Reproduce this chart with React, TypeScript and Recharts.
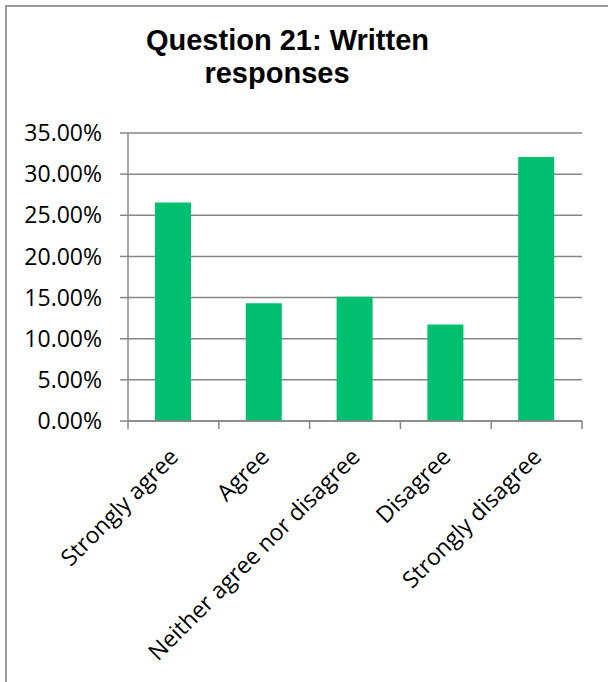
import React from "react";
import { BarChart, Bar, XAxis, YAxis, CartesianGrid } from "recharts";

const categories = [
  "Strongly agree",
  "Agree",
  "Neither agree nor disagree",
  "Disagree",
  "Strongly disagree",
];
const shares = [0.2654, 0.1432, 0.1509, 0.1173, 0.3209];
const yTicks = [0, 0.05, 0.1, 0.15, 0.2, 0.25, 0.3, 0.35];
const edgeTicks = [0, 1, 2, 3, 4, 5];
const titleLines = ["Question 21: Written", "responses"];

const data = categories.map((name, i) => ({ name, value: shares[i], edge: i + 0.5 }));

const AXIS = "#868686";
const BAR = "#00BF6F";
const FONT = "'Open Sans', sans-serif";

const CatTick = (props: any) => {
  const { x, y, payload } = props;
  const ax = x;
  const ay = y + 23;
  return (
    <text
      x={ax}
      y={ay}
      transform={`rotate(-45, ${ax}, ${ay})`}
      textAnchor="end"
      dominantBaseline="central"
      fontFamily={FONT}
      fontSize={23}
      fill="#000"
    >
      {payload.value}
    </text>
  );
};

const EdgeTick = (props: any) => {
  const { x, y } = props;
  return <line x1={x} x2={x} y1={y} y2={y + 8} stroke={AXIS} strokeWidth={1.5} />;
};

export default function App() {
  return (
    <div style={{ position: "absolute", left: 0, top: 0, width: 608, height: 682, background: "#fff" }}>
      <div
        style={{
          position: "absolute",
          left: 5,
          top: 5,
          width: 603,
          height: 677,
          boxSizing: "border-box",
          borderTop: "2px solid #9a9a9a",
          borderLeft: "2px solid #9a9a9a",
        }}
      />
      <svg width={608} height={110} style={{ position: "absolute", left: 0, top: 0 }}>
        <text
          textAnchor="middle"
          fontFamily="'Liberation Sans', Arial, sans-serif"
          fontWeight="bold"
          fontSize={29}
          fill="#000"
        >
          <tspan x={287.5} y={49.5}>{titleLines[0]}</tspan>
          <tspan x={277} y={82.5}>{titleLines[1]}</tspan>
        </text>
      </svg>
      <div style={{ position: "absolute", left: 0, top: 0 }}>
        <BarChart
          width={608}
          height={682}
          data={data}
          margin={{ top: 133, right: 26, bottom: 61, left: 28 }}
          barSize={36}
        >
          <CartesianGrid horizontal vertical={false} stroke={AXIS} strokeWidth={1.5} />
          <XAxis
            xAxisId="a-edges"
            dataKey="edge"
            type="number"
            domain={[0, 5]}
            ticks={edgeTicks}
            height={8}
            axisLine={{ stroke: AXIS, strokeWidth: 1.5 }}
            tickLine={false}
            tickSize={0}
            tickMargin={0}
            tick={<EdgeTick />}
            allowDataOverflow
          />
          <XAxis
            xAxisId="b-cat"
            dataKey="name"
            type="category"
            height={192}
            axisLine={false}
            tickLine={false}
            tickSize={0}
            tickMargin={0}
            interval={0}
            tick={<CatTick />}
          />
          <YAxis
            width={100}
            domain={[0, 0.35]}
            ticks={yTicks}
            axisLine={{ stroke: AXIS, strokeWidth: 1.5 }}
            tickLine={{ stroke: AXIS, strokeWidth: 1.5 }}
            tickSize={8}
            tickMargin={18}
            tickFormatter={(v: number) => (v * 100).toFixed(2) + "%"}
            tick={{ fontFamily: FONT, fontSize: 23, fill: "#000" }}
          />
          <Bar xAxisId="b-cat" dataKey="value" fill={BAR} isAnimationActive={false} />
        </BarChart>
      </div>
    </div>
  );
}
